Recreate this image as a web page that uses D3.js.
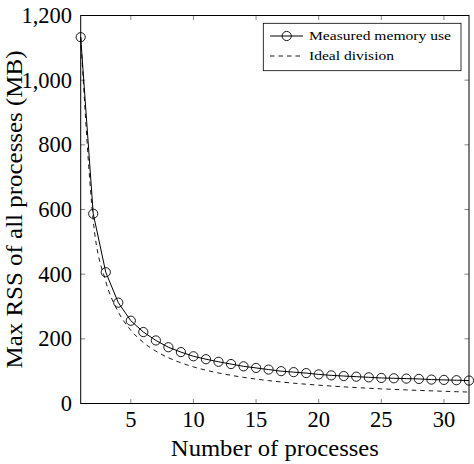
<!DOCTYPE html>
<html><head><meta charset="utf-8">
<script src="https://cdn.jsdelivr.net/npm/d3@7"></script>
<style>body{margin:0;background:#fff}svg{display:block}</style>
</head><body><svg id="c" width="474" height="464"></svg>
<script>
const processes = d3.range(1, 33);
const measured = [1133,587,406,312,256,221,195,174,159,146,137,129,122,115,110,105,100,97,94,90,87,85,83,81,79,78,77,76,74,73,72,71];
const ideal = [1133,566.5,377.7,283.3,226.6,188.8,161.9,141.6,125.9,113.3,103,94.4,87.2,80.9,75.5,70.8,66.6,62.9,59.6,56.7,54,51.5,49.3,47.2,45.3,43.6,42,40.5,39.1,37.8,36.5,35.4];
const xTicks = [5,10,15,20,25,30];
const yTicks = [0,200,400,600,800,1000,1200];
const seriesNames = ["Measured memory use","Ideal division"];
const xTitle = "Number of processes";
const yTitle = "Max RSS of all processes (MB)";

const svg = d3.select("#c");
const L=80.7, R=469, T=15.5, B=403.5;
const x = d3.scaleLinear().domain([1,32]).range([L,R]);
const y = d3.scaleLinear().domain([0,1200]).range([B,T]);
const tl = 4.5, tc = "#666";
function txt(sel){ return sel.append("text").attr("font-family","serif").style("font-family","serif").attr("fill","#000"); }

const g = svg.append("g");
xTicks.forEach(v=>{
  g.append("line").attr("x1",x(v)).attr("x2",x(v)).attr("y1",B).attr("y2",B-tl).attr("stroke",tc).attr("stroke-width",0.8);
  g.append("line").attr("x1",x(v)).attr("x2",x(v)).attr("y1",T).attr("y2",T+tl).attr("stroke",tc).attr("stroke-width",0.8);
  txt(g).attr("x",x(v)).attr("y",427).attr("text-anchor","middle").attr("font-size",22.5).text(v);
});
const fmt = d3.format(",");
yTicks.forEach(v=>{
  g.append("line").attr("x1",L).attr("x2",L+tl).attr("y1",y(v)).attr("y2",y(v)).attr("stroke",tc).attr("stroke-width",0.8);
  g.append("line").attr("x1",R).attr("x2",R-tl).attr("y1",y(v)).attr("y2",y(v)).attr("stroke",tc).attr("stroke-width",0.8);
  txt(g).attr("x",72).attr("y",y(v)+7.5).attr("text-anchor","end").attr("font-size",22.5).text(fmt(v));
});

svg.append("path").datum(processes.map((p,i)=>[p,ideal[i]]))
  .attr("d", d3.line().x(d=>x(d[0])).y(d=>y(d[1])).curve(d3.curveMonotoneX))
  .attr("fill","none").attr("stroke","#000").attr("stroke-width",0.9).attr("stroke-dasharray","4.5,4");

svg.append("path").datum(processes.map((p,i)=>[p,measured[i]]))
  .attr("d", d3.line().x(d=>x(d[0])).y(d=>y(d[1])))
  .attr("fill","none").attr("stroke","#000").attr("stroke-width",1);
svg.append("g").selectAll("circle").data(processes.map((p,i)=>[p,measured[i]])).join("circle")
  .attr("cx",d=>x(d[0])).attr("cy",d=>y(d[1])).attr("r",4.6)
  .attr("fill","none").attr("stroke","#000").attr("stroke-width",0.9);

svg.append("rect").attr("x",L).attr("y",T).attr("width",R-L).attr("height",B-T)
  .attr("fill","none").attr("stroke","#000").attr("stroke-width",1);

txt(svg).attr("x",(L+R)/2).attr("y",456).attr("text-anchor","middle").attr("font-size",24)
  .attr("textLength",208).attr("lengthAdjust","spacingAndGlyphs").text(xTitle);
txt(svg).attr("transform",`translate(22,${(T+B)/2}) rotate(-90)`).attr("text-anchor","middle").attr("font-size",24)
  .attr("textLength",318).attr("lengthAdjust","spacingAndGlyphs").text(yTitle);

const lg = svg.append("g");
lg.append("rect").attr("x",263.3).attr("y",23.3).attr("width",197.7).attr("height",47.4).attr("fill","#fff").attr("stroke","#000").attr("stroke-width",0.8);
lg.append("line").attr("x1",270).attr("x2",303).attr("y1",36).attr("y2",36).attr("stroke","#000").attr("stroke-width",1);
lg.append("circle").attr("cx",286.7).attr("cy",36).attr("r",4.6).attr("fill","none").attr("stroke","#000").attr("stroke-width",0.9);
lg.append("line").attr("x1",270).attr("x2",303).attr("y1",56).attr("y2",56).attr("stroke","#000").attr("stroke-width",0.9).attr("stroke-dasharray","4.5,4");
txt(lg).attr("x",309).attr("y",40).attr("font-size",13.5).attr("textLength",142).attr("lengthAdjust","spacingAndGlyphs").text(seriesNames[0]);
txt(lg).attr("x",309).attr("y",60).attr("font-size",13.5).attr("textLength",85).attr("lengthAdjust","spacingAndGlyphs").text(seriesNames[1]);
</script></body></html>
